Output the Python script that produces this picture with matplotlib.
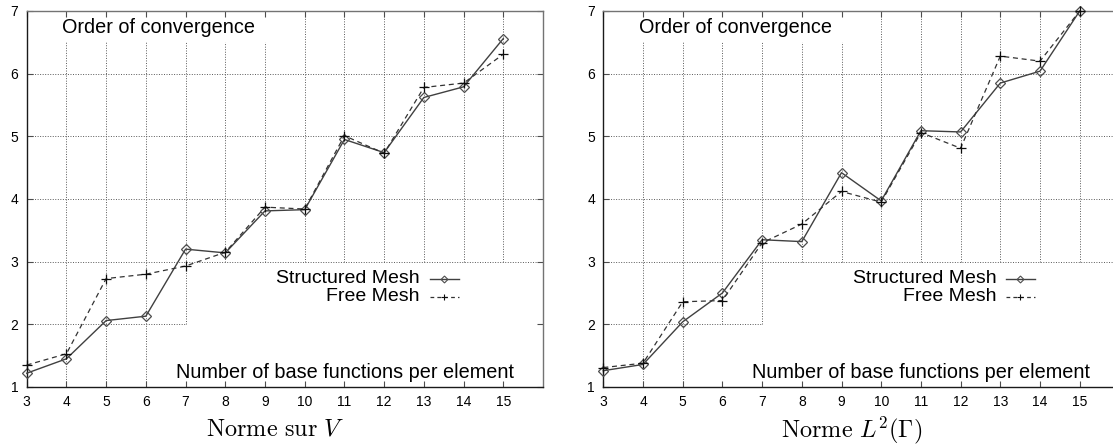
import matplotlib
matplotlib.use("Agg")
import matplotlib.pyplot as plt

plt.rcParams['font.family'] = ['Liberation Sans', 'DejaVu Sans']
plt.rcParams['mathtext.fontset'] = 'cm'

# number of base functions per element
n_base = [3, 4, 5, 6, 7, 8, 9, 10, 11, 12, 13, 14, 15]

# order of convergence, norm on V
v_structured = [1.22, 1.45, 2.06, 2.13, 3.20, 3.14, 3.81, 3.83, 4.95, 4.74, 5.62, 5.79, 6.56]
v_free = [1.35, 1.53, 2.73, 2.80, 2.93, 3.15, 3.87, 3.84, 5.01, 4.73, 5.78, 5.85, 6.31]

# order of convergence, L2(Gamma) norm
l2_structured = [1.26, 1.36, 2.04, 2.50, 3.35, 3.32, 4.42, 3.97, 5.09, 5.07, 5.85, 6.04, 7.00]
l2_free = [1.31, 1.38, 2.36, 2.38, 3.30, 3.60, 4.12, 3.95, 5.06, 4.81, 6.28, 6.20, 7.00]

x_ticks = list(range(3, 16))
y_ticks = [1, 2, 3, 4, 5, 6, 7]

W, H = 1113, 447
fig = plt.figure(figsize=(W / 100, H / 100), dpi=100)

GRID = dict(color='0.35', lw=0.7, ls=(0, (1, 1.6)), zorder=1)


def grid_lines(ax, vstops):
    # gnuplot leaves the grid out behind the labels and the key
    for x in x_ticks[1:]:
        top = 6.5 if x <= 9 else 7
        ax.plot([x, x], [vstops.get(x, 3), top], **GRID)
    ax.plot([3, 7], [2, 2], **GRID)
    for y in [3, 4, 5, 6]:
        ax.plot([3, 16], [y, y], **GRID)


def panel(rect, s, f, vstops, caption, cap_x):
    ax = fig.add_axes(rect)
    ax.set_xlim(3, 16)
    ax.set_ylim(1, 7)
    grid_lines(ax, vstops)
    ax.plot(n_base, s, color='0.25', lw=1.0, marker='D', ms=5,
            mfc='none', mec='0.3', mew=0.9, zorder=3, clip_on=False)
    ax.plot(n_base, f, color='0.2', lw=0.9, ls=(0, (4, 3)), marker='+',
            ms=7.5, mec='0.05', mew=0.9, zorder=3, clip_on=False)

    # key
    ax.text(12.9, 2.73, 'Structured Mesh', ha='right', va='center', fontsize=14)
    ax.text(12.9, 2.44, 'Free Mesh', ha='right', va='center', fontsize=14)
    ax.plot([13.15, 13.88], [2.73, 2.73], color='0.25', lw=1.0)
    ax.plot([13.5], [2.73], marker='D', ms=3.5, mfc='none', mec='0.3', mew=0.8)
    ax.plot([13.15, 13.88], [2.44, 2.44], color='0.2', lw=0.9, ls=(0, (3, 2.5)))
    ax.plot([13.5], [2.44], marker='+', ms=5, mec='0.05', mew=0.8)

    ax.text(3.89, 6.74, 'Order of convergence', ha='left', va='center', fontsize=14.3)
    ax.text(15.26, 1.23, 'Number of base functions per element',
            ha='right', va='center', fontsize=14.3)

    ax.set_xticks(x_ticks)
    ax.set_yticks(y_ticks)
    ax.tick_params(direction='in', length=4, color='0.3', labelsize=10,
                   top=True, right=True, pad=6)
    for side in ['top', 'right']:
        ax.spines[side].set_color('0.45')
    for side in ['left', 'bottom']:
        ax.spines[side].set_color('0.1')
    for sp in ax.spines.values():
        sp.set_linewidth(1.0)

    fig.text(cap_x / W, 1 - 430 / H, caption, ha='center', va='center', fontsize=17.5)
    return ax


bottom = (H - 387) / H
height = 376 / H
panel([26.7 / W, bottom, 516.3 / W, height], v_structured, v_free,
      {4: 1, 5: 1, 6: 1, 7: 2}, r'$\mathrm{Norme\ sur\ }V$', 275)
panel([603.3 / W, bottom, 516.1 / W, height], l2_structured, l2_free,
      {4: 1, 5: 1, 6: 2, 7: 2}, r'$\mathrm{Norme\ }L^2(\Gamma)$', 852)

fig.savefig('out.png', dpi=100)
